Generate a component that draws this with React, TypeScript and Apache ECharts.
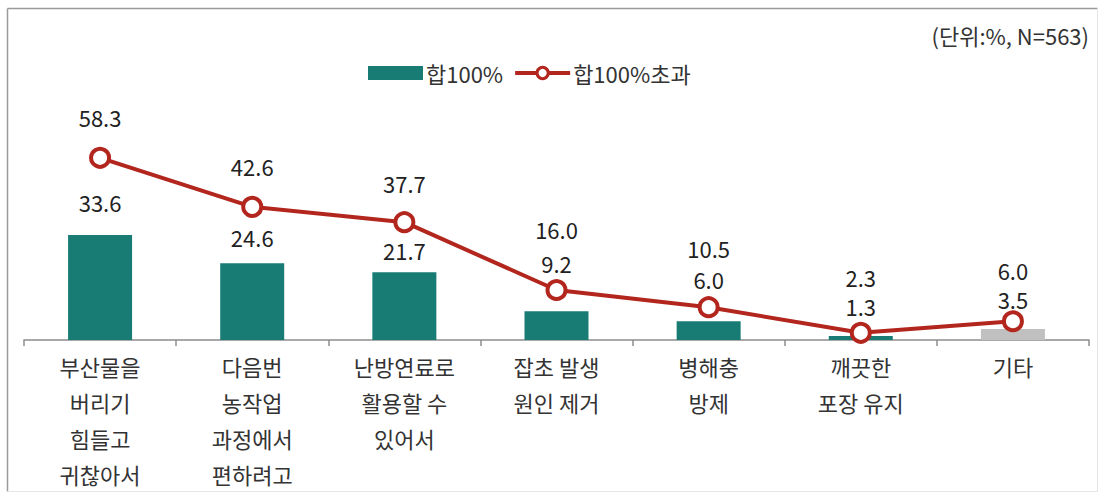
import React, { useEffect, useRef } from "react";
import * as echarts from "echarts";

const categories = [
  "부산물을\n버리기\n힘들고\n귀찮아서",
  "다음번\n농작업\n과정에서\n편하려고",
  "난방연료로\n활용할 수\n있어서",
  "잡초 발생\n원인 제거",
  "병해충\n방제",
  "깨끗한\n포장 유지",
  "기타",
];
const barValues = [33.6, 24.6, 21.7, 9.2, 6.0, 1.3, 3.5];
const lineValues = [58.3, 42.6, 37.7, 16.0, 10.5, 2.3, 6.0];
const barName = "합100%";
const lineName = "합100%초과";
const unitNote = "(단위:%, N=563)";

// label distances (presentation only)
const lineLabelDist = [19, 19, 17, 39, 37, 34, 29];
const barLabelDist = [22, 15, 11, 37, 31, 19, 19];

const FONT = "'Noto Sans CJK KR', 'Noto Sans', sans-serif";
const TEAL = "#187c75";
const RED = "#b3261e";
const GRAY = "#c0c0c0";

export default function App() {
  const ref = useRef<HTMLDivElement>(null);
  useEffect(() => {
    if (!ref.current) return;
    const chart = echarts.init(ref.current, null, { renderer: "svg" });
    const labelBase = {
      show: true,
      position: "top",
      fontSize: 22,
      lineHeight: 22,
      color: "#222",
      fontFamily: FONT,
      formatter: (p: any) => Number(p.value).toFixed(1),
    };
    chart.setOption({
      animation: false,
      backgroundColor: "#ffffff",
      textStyle: { fontFamily: FONT },
      graphic: [
        { type: "line", shape: { x1: 7.5, y1: 8.5, x2: 1097.5, y2: 8.5 }, style: { stroke: "#9a9a9a", lineWidth: 1.5 } },
        { type: "line", shape: { x1: 7.5, y1: 8.5, x2: 7.5, y2: 491.5 }, style: { stroke: "#9a9a9a", lineWidth: 1.5 } },
        { type: "line", shape: { x1: 1097.5, y1: 8.5, x2: 1097.5, y2: 491.5 }, style: { stroke: "#e6e6e6", lineWidth: 1 } },
        { type: "line", shape: { x1: 7.5, y1: 491.5, x2: 1097.5, y2: 491.5 }, style: { stroke: "#e6e6e6", lineWidth: 1 } },
        {
          type: "text",
          right: 12,
          top: 24,
          style: { text: unitNote, fontSize: 22, fill: "#333", fontFamily: FONT },
        },
      ],
      legend: {
        left: 363,
        top: 57,
        itemWidth: 55,
        itemHeight: 14,
        itemGap: 10,
        textStyle: { fontSize: 22, color: "#333", fontFamily: FONT, padding: [0, 0, 0, -2] },
        data: [
          { name: barName, icon: "rect", itemStyle: { color: TEAL } },
          {
            name: lineName,
            lineStyle: { color: RED, width: 4 },
            itemStyle: { color: "#ffffff", borderColor: RED, borderWidth: 3 },
          },
        ],
      },
      grid: { left: 24, right: 12, top: 90, bottom: 157, containLabel: false },
      xAxis: {
        type: "category",
        data: categories,
        axisLine: { lineStyle: { color: "#8c8c8c", width: 1.5 } },
        axisTick: { show: true, length: 6, lineStyle: { color: "#8c8c8c", width: 1.5 } },
        axisLabel: {
          interval: 0,
          fontSize: 22,
          lineHeight: 36,
          color: "#333",
          fontFamily: FONT,
          margin: 8,
        },
      },
      yAxis: {
        type: "value",
        min: 0,
        max: 80,
        show: false,
        splitLine: { show: false },
      },
      series: [
        {
          name: barName,
          type: "bar",
          barWidth: 64,
          itemStyle: { color: TEAL },
          data: barValues.map((v, i) => ({
            value: v,
            itemStyle: { color: i === barValues.length - 1 ? GRAY : TEAL },
            label: { ...labelBase, distance: barLabelDist[i] },
          })),
          z: 2,
        },
        {
          name: lineName,
          type: "line",
          symbol: "circle",
          symbolSize: 18,
          showAllSymbol: true,
          lineStyle: { color: RED, width: 4 },
          itemStyle: { color: "#ffffff", borderColor: RED, borderWidth: 4 },
          data: lineValues.map((v, i) => ({
            value: v,
            label: { ...labelBase, distance: lineLabelDist[i] },
          })),
          z: 3,
        },
      ],
    });
    return () => chart.dispose();
  }, []);
  return <div ref={ref} style={{ width: 1101, height: 497, position: "absolute", left: 0, top: 0 }} />;
}
